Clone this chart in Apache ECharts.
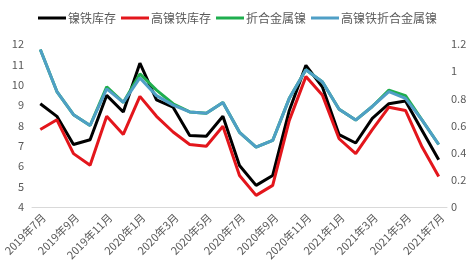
<!DOCTYPE html>
<html><head><meta charset="utf-8">
<script src="https://cdn.jsdelivr.net/npm/echarts@6/dist/echarts.min.js"></script>
<style>html,body{margin:0;padding:0;background:#fff}#c{width:475px;height:274px}</style>
</head><body><div id="c"></div>
<script>
var categories = ['2019年7月','2019年8月','2019年9月','2019年10月','2019年11月','2019年12月','2020年1月','2020年2月','2020年3月','2020年4月','2020年5月','2020年6月','2020年7月','2020年8月','2020年9月','2020年10月','2020年11月','2020年12月','2021年1月','2021年2月','2021年3月','2021年4月','2021年5月','2021年6月','2021年7月'];
var nickelPigIron = [9.07,8.45,7.07,7.3,9.48,8.66,11.06,9.26,8.9,7.51,7.47,8.45,6.04,5.06,5.55,8.74,10.95,9.88,7.55,7.14,8.35,9.07,9.2,7.76,6.32];
var highNickelPigIron = [7.8,8.28,6.62,6.05,8.45,7.56,9.43,8.45,7.68,7.07,6.98,7.96,5.55,4.57,5.06,8.25,10.4,9.48,7.35,6.62,7.8,8.9,8.74,6.94,5.5];
var metalNickel = [1.16,0.85,0.68,0.60,0.885,0.77,0.98,0.86,0.76,0.70,0.69,0.77,0.55,0.44,0.49,0.80,1.01,0.92,0.72,0.64,0.74,0.86,0.82,0.64,0.46];
var highMetalNickel = [1.16,0.85,0.68,0.60,0.87,0.77,0.95,0.82,0.75,0.70,0.69,0.77,0.55,0.44,0.49,0.80,1.01,0.92,0.72,0.64,0.74,0.85,0.80,0.64,0.46];
var seriesNames = ['镍铁库存','高镍铁库存','折合金属镍','高镍铁折合金属镍'];
var leftTicks = {min:4,max:12,interval:1};
var rightTicks = {min:0,max:1.2,interval:0.2};

var font = '"Noto Sans CJK SC", sans-serif';
var chart = echarts.init(document.getElementById('c'), null, {renderer:'canvas'});
var lab = {color:'#595959', fontSize:11, fontFamily:font};
chart.setOption({
  animation:false,
  legend:{top:7,left:'center',itemWidth:28,itemHeight:3,itemGap:5,icon:'rect',
    textStyle:{color:'#595959',fontSize:12,fontFamily:font,padding:[0,0,0,-3]},
    data:seriesNames},
  grid:{left:32,right:28,top:44,bottom:67,containLabel:false},
  xAxis:{type:'category',data:categories,boundaryGap:true,
    axisLine:{lineStyle:{color:'#d9d9d9'}},
    axisTick:{interval:1,length:4,lineStyle:{color:'#d9d9d9'}},
    axisLabel:Object.assign({interval:1,rotate:45,margin:12,padding:[0,-5,0,0]},lab)},
  yAxis:[
    {type:'value',min:leftTicks.min,max:leftTicks.max,interval:leftTicks.interval,
     splitLine:{show:false},axisLine:{show:false},axisTick:{show:false},
     axisLabel:Object.assign({margin:8},lab)},
    {type:'value',min:rightTicks.min,max:rightTicks.max,interval:rightTicks.interval,
     splitLine:{show:false},axisLine:{show:false},axisTick:{show:false},
     axisLabel:Object.assign({margin:4},lab)}
  ],
  series:[
    {name:seriesNames[0],type:'line',yAxisIndex:0,data:nickelPigIron,showSymbol:false,symbol:'none',lineStyle:{width:3,color:'#000000'},itemStyle:{color:'#000000'}},
    {name:seriesNames[1],type:'line',yAxisIndex:0,data:highNickelPigIron,showSymbol:false,symbol:'none',lineStyle:{width:3,color:'#e3161c'},itemStyle:{color:'#e3161c'}},
    {name:seriesNames[2],type:'line',yAxisIndex:1,data:metalNickel,showSymbol:false,symbol:'none',lineStyle:{width:3,color:'#1fae4e'},itemStyle:{color:'#1fae4e'}},
    {name:seriesNames[3],type:'line',yAxisIndex:1,data:highMetalNickel,showSymbol:false,symbol:'none',lineStyle:{width:3,color:'#4f9fc6'},itemStyle:{color:'#4f9fc6'}}
  ]
});
</script></body></html>
